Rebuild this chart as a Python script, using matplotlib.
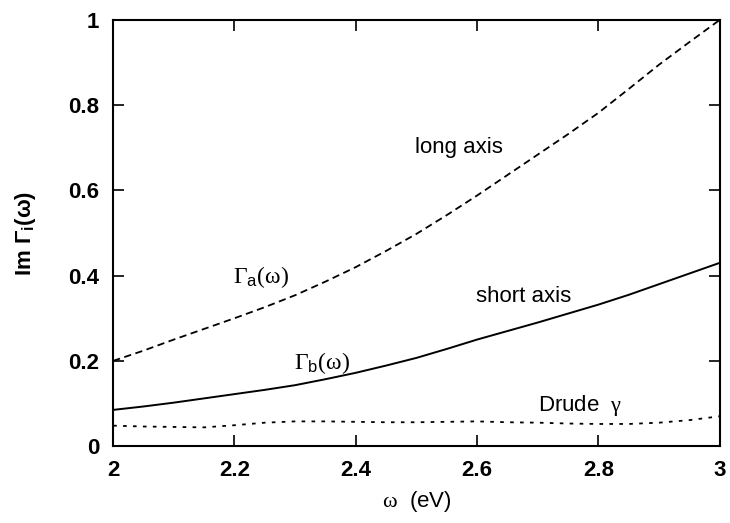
import matplotlib
matplotlib.use("Agg")
import matplotlib.pyplot as plt

plt.rcParams['font.family'] = ['Liberation Sans', 'DejaVu Sans']
plt.rcParams['mathtext.fontset'] = 'custom'
plt.rcParams['mathtext.rm'] = 'Liberation Serif'
plt.rcParams['mathtext.it'] = 'Liberation Serif:italic'
plt.rcParams['mathtext.sf'] = 'Liberation Sans'
plt.rcParams['mathtext.bf'] = 'Liberation Sans:bold'

# photon energy grid (eV)
omega = [2.0, 2.05, 2.1, 2.15, 2.2, 2.25, 2.3, 2.35, 2.4, 2.45, 2.5,
         2.55, 2.6, 2.65, 2.7, 2.75, 2.8, 2.85, 2.9, 2.95, 3.0]
# long axis damping
gamma_a = [0.200, 0.224, 0.250, 0.275, 0.300, 0.326, 0.354, 0.386, 0.420, 0.458, 0.498,
           0.542, 0.588, 0.636, 0.684, 0.732, 0.782, 0.838, 0.895, 0.948, 1.0]
# short axis damping
gamma_b = [0.085, 0.093, 0.102, 0.112, 0.122, 0.132, 0.143, 0.157, 0.172, 0.189, 0.207,
           0.228, 0.250, 0.270, 0.290, 0.311, 0.332, 0.355, 0.380, 0.405, 0.430]
# Drude gamma
drude = [0.048, 0.046, 0.045, 0.044, 0.049, 0.055, 0.058, 0.058, 0.057, 0.056, 0.056,
         0.057, 0.058, 0.056, 0.055, 0.053, 0.052, 0.052, 0.055, 0.061, 0.070]

xticks = [2.0, 2.2, 2.4, 2.6, 2.8, 3.0]
xlabels = ['2', '2.2', '2.4', '2.6', '2.8', '3']
yticks = [0.0, 0.2, 0.4, 0.6, 0.8, 1.0]
ylabels = ['0', '0.2', '0.4', '0.6', '0.8', '1']

fig = plt.figure(figsize=(7.3, 5.23), dpi=100)
ax = fig.add_axes([0.155, 0.147, 0.831, 0.815])

ax.plot(omega, gamma_a, color='black', lw=1.3, linestyle=(0, (4, 2.5)))
ax.plot(omega, gamma_b, color='black', lw=1.4, linestyle='-')
ax.plot(omega, drude, color='black', lw=1.3, linestyle=(0, (2, 3.5)))

ax.set_xlim(2, 3)
ax.set_ylim(0, 1)
ax.set_xticks(xticks)
ax.set_xticklabels(xlabels)
ax.set_yticks(yticks)
ax.set_yticklabels(ylabels)
ax.tick_params(direction='in', length=8, width=1.2, top=True, right=True,
               labelsize=16, pad=10)
for lab in ax.get_xticklabels() + ax.get_yticklabels():
    lab.set_fontweight('bold')
for sp in ax.spines.values():
    sp.set_linewidth(1.5)

ax.set_xlabel(r'$\mathrm{\omega}$  (eV)', fontsize=16, labelpad=6)
ax.set_ylabel(r'Im $\mathbf{\Gamma_i(\omega)}$', fontsize=16, fontweight='bold', labelpad=22)

# curve annotations
ax.text(2.498, 0.70, 'long axis', fontsize=16, va='center')
ax.text(2.598, 0.35, 'short axis', fontsize=16, va='center')
ax.text(2.70, 0.096, r'Drude  $\mathrm{\gamma}$', fontsize=16, va='center')
ax.text(2.197, 0.397, r'$\mathrm{\Gamma}_{\mathsf{a}}\mathrm{(\omega)}$', fontsize=17, va='center')
ax.text(2.298, 0.195, r'$\mathrm{\Gamma}_{\mathsf{b}}\mathrm{(\omega)}$', fontsize=17, va='center')

fig.savefig('out.png', dpi=100)
